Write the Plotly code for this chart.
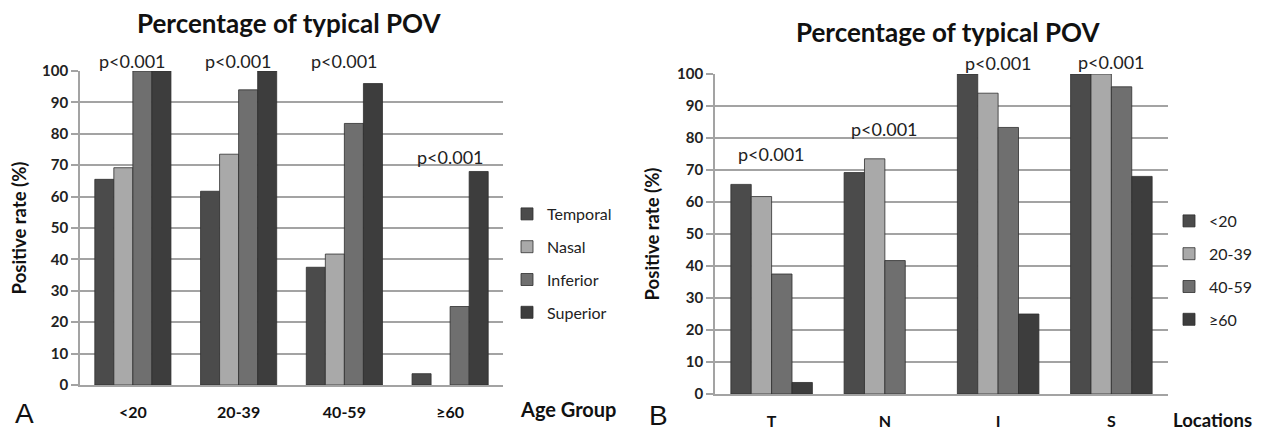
import plotly.graph_objects as go

# ---------------- data ----------------
age_groups = ["<20", "20-39", "40-59", "≥60"]
locations = ["T", "N", "I", "S"]
location_names = ["Temporal", "Nasal", "Inferior", "Superior"]

# positive rate (%) per location, ordered by age group
temporal = [65.5, 61.7, 37.5, 3.6]
nasal = [69.2, 73.5, 41.7, 0.0]
inferior = [100.0, 94.0, 83.3, 25.0]
superior = [100.0, 100.0, 96.0, 68.0]

p_text = "p<0.001"
# p-value label anchors (category, y value)
p_left = [("<20", 103.2), ("20-39", 103.2), ("40-59", 103.2), ("≥60", 72.5)]
p_right = [("T", 75.0), ("N", 82.8), ("I", 103.4), ("S", 103.7)]

# ---------------- styles ----------------
colors = ["#4b4b4b", "#a9a9a9", "#6f6f6f", "#3d3d3d"]
grid_col = "#a3a3a3"
FONT = "Lato"
W, H = 1263, 429
OFF = 8  # page body margin offset
YMAX = 100

by_location = [temporal, nasal, inferior, superior]
by_age = [[row[i] for row in by_location] for i in range(len(age_groups))]


def outline(vals):
    return dict(color="#2e2e2e", width=[0.8 if v > 0 else 0 for v in vals])


fig = go.Figure()

for name, vals, c in zip(location_names, by_location, colors):
    fig.add_trace(go.Bar(
        x=age_groups, y=vals, name=name, marker=dict(color=c, line=outline(vals)),
        xaxis="x", yaxis="y", legend="legend", legendgroup="L" + name, showlegend=True,
    ))

for i, (ag, c) in enumerate(zip(age_groups, colors)):
    fig.add_trace(go.Bar(
        x=locations, y=by_age[i], name=ag, marker=dict(color=c, line=outline(by_age[i])),
        xaxis="x2", yaxis="y2", legend="legend2", legendgroup="R" + ag, showlegend=True,
    ))

def px_x(p):
    return (p - OFF) / W

def px_y(p):
    return 1 - (p - OFF) / H

common_y = dict(
    range=[0, YMAX], dtick=10, showgrid=True, gridcolor=grid_col, gridwidth=1.6,
    showline=True, linecolor=grid_col, linewidth=1.6,
    ticks="outside", ticklen=7, tickcolor=grid_col, tickwidth=1.6,
    tickfont=dict(family=FONT, size=15, color="#222", weight="bold"),
    title=dict(text="Positive rate (%)", font=dict(family=FONT, size=18.5, color="#111", weight="bold"), standoff=13),
    zeroline=False, fixedrange=True, automargin=False,
)
common_x = dict(
    type="category", showline=True, linecolor=grid_col, linewidth=1.6, showgrid=False,
    ticks="", tickfont=dict(family=FONT, size=16, color="#111", weight="bold"),
    ticklabelstandoff=12, zeroline=False, automargin=False,
)

leg_font = dict(family=FONT, size=16, color="#222")
fig.update_layout(
    width=W, height=H, margin=dict(l=0, r=0, t=0, b=0, autoexpand=False),
    paper_bgcolor="white", plot_bgcolor="white",
    barmode="group", bargap=0.28, bargroupgap=0,
    xaxis=dict(domain=[px_x(80), px_x(503)], anchor="y", **common_x),
    yaxis=dict(domain=[px_y(385), px_y(71)], anchor="x", **common_y),
    xaxis2=dict(domain=[px_x(715), px_x(1168)], anchor="y2", **common_x),
    yaxis2=dict(domain=[px_y(394), px_y(74)], anchor="x2", **common_y),
    legend=dict(x=px_x(507), y=px_y(197), xanchor="left", yanchor="top",
                font=leg_font, bgcolor="rgba(0,0,0,0)",
                traceorder="grouped", tracegroupgap=9),
    legend2=dict(x=px_x(1169), y=px_y(204), xanchor="left", yanchor="top",
                 font=leg_font, bgcolor="rgba(0,0,0,0)",
                 traceorder="grouped", tracegroupgap=9),
    showlegend=True,
)

ann = []
for cat, yv in p_left:
    ann.append(dict(x=cat, y=yv / YMAX, xref="x", yref="y domain", text=p_text, showarrow=False,
                    xanchor="center", yanchor="middle", font=dict(family=FONT, size=18, color="#222")))
for cat, yv in p_right:
    ann.append(dict(x=cat, y=yv / YMAX, xref="x2", yref="y2 domain", text=p_text, showarrow=False,
                    xanchor="center", yanchor="middle", font=dict(family=FONT, size=18, color="#222")))

def label(x, y, text, size, family=FONT, weight="bold"):
    return dict(x=px_x(x), y=px_y(y), xref="paper", yref="paper", text=text, showarrow=False,
                xanchor="center", yanchor="middle",
                font=dict(family=family, size=size, color="#111", weight=weight))

ann += [
    label(289, 23, "Percentage of typical POV", 26),
    label(948, 32, "Percentage of typical POV", 26),
    label(568, 409, "Age Group", 20),
    label(1212, 420, "Locations", 18.5),
    label(24, 413, "A", 28, family="Liberation Sans", weight="normal"),
    label(658, 415, "B", 28, family="Liberation Sans", weight="normal"),
]
fig.update_layout(annotations=ann)

fig.write_html("out.html")
